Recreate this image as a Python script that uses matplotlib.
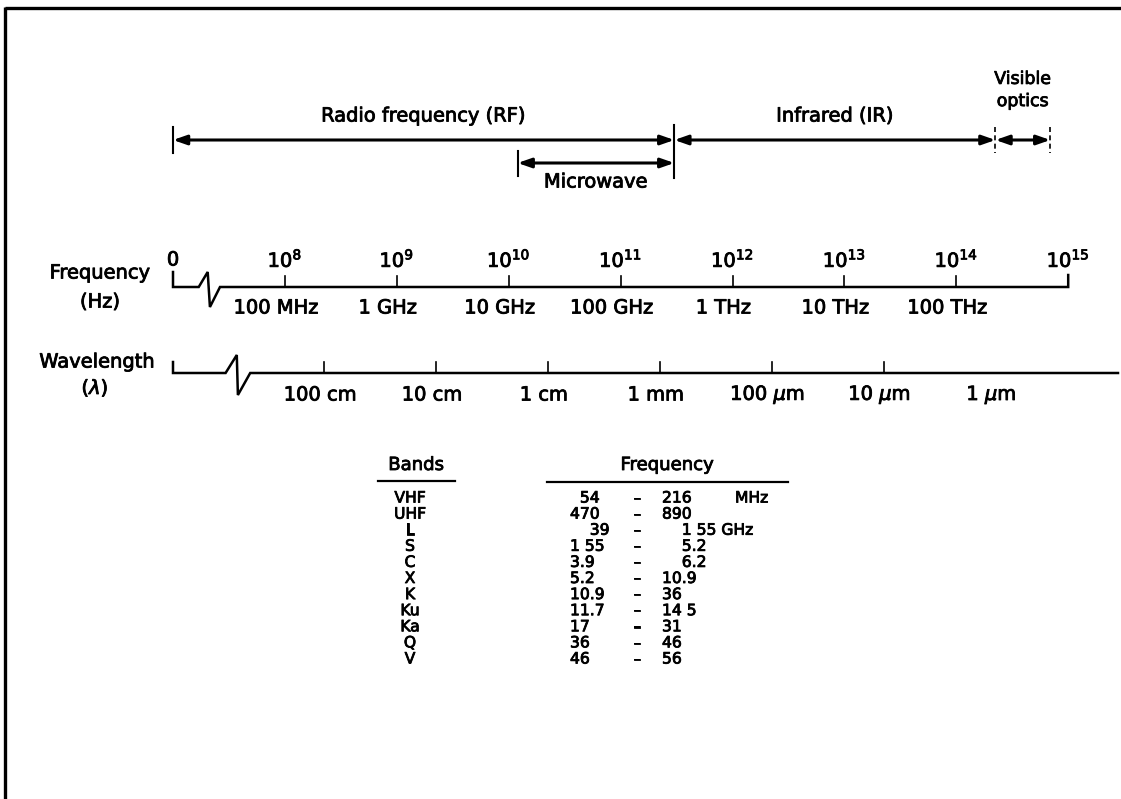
import matplotlib
matplotlib.use("Agg")
import matplotlib.pyplot as plt
import matplotlib.patheffects as pe

plt.rcParams['font.family'] = ['DejaVu Sans']
plt.rcParams['mathtext.fontset'] = 'dejavusans'

# ---------------- data ----------------
freq_exponents = [8, 9, 10, 11, 12, 13, 14, 15]
freq_names = ["100 MHz", "1 GHz", "10 GHz", "100 GHz", "1 THz", "10 THz", "100 THz"]
wave_names = ["100 cm", "10 cm", "1 cm", "1 mm", "100 $\\mu$m", "10 $\\mu$m", "1 $\\mu$m"]
wave_tick_count = 6

# spectral regions (in decades of Hz, on the drawing's scale)
region_names = ["Radio frequency (RF)", "Infrared (IR)", "Visible\noptics"]
region_start = [7.0, 11.48, 14.35]
region_end = [11.48, 14.35, 14.84]
micro_name = "Microwave"
micro_start, micro_end = 10.08, 11.48

bands = ["VHF", "UHF", "L", "S", "C", "X", "K", "Ku", "Ka", "Q", "V"]
band_low = ["\u200754", "470", "\u2007\u200739", "1 55", "3.9", "5.2", "10.9", "11.7", "17", "36", "46"]
band_high = ["216", "890", "\u2007\u20071 55", "\u2007\u20075.2", "\u2007\u20076.2", "10.9", "36", "14 5", "31", "46", "56"]
band_unit = ["MHz", "", "GHz", "", "", "", "", "", "", "", ""]

# ---------------- layout ----------------
X0, DEC = 173, 111.9          # pixel x of decade 7 and pixels per decade


def xd(e):
    return X0 + (e - 7) * DEC


fig = plt.figure(figsize=(11.21, 7.99), dpi=100)
ax = fig.add_axes([0, 0, 1, 1])
ax.set_xlim(0, 1121)
ax.set_ylim(799, 0)
ax.axis('off')

thick = [pe.withStroke(linewidth=0.6, foreground='black')]
FS = 14


def txt(x, y, s, ha='center', va='center', fs=FS, **kw):
    ax.text(x, y, s, ha=ha, va=va, fontsize=fs, color='black',
            path_effects=thick, **kw)


# border (scanned frame)
ax.plot([5, 1121], [8, 8], color='black', lw=2.4, solid_capstyle='butt')
ax.plot([5, 5], [7, 799], color='black', lw=2.4, solid_capstyle='butt')

# ---------------- region arrows ----------------
y_top = 140
arrow_kw = dict(arrowstyle='<|-|>,head_length=0.8,head_width=0.28', color='black',
                lw=2.2, shrinkA=0, shrinkB=0)
for name, s, e in zip(region_names, region_start, region_end):
    ax.annotate('', xy=(xd(s), y_top), xytext=(xd(e), y_top), arrowprops=arrow_kw)
    if '\n' in name:
        txt((xd(s) + xd(e)) / 2, 90, name, fs=FS - 1.5, linespacing=1.3)
    else:
        txt((xd(s) + xd(e)) / 2, 116, name)

# boundary marks
ax.plot([xd(7), xd(7)], [127, 153], color='black', lw=1.5)
ax.plot([xd(11.48), xd(11.48)], [125, 178], color='black', lw=1.5)
ax.plot([xd(14.35), xd(14.35)], [127, 153], color='black', lw=1.2, dashes=(3, 2))
ax.plot([xd(14.84), xd(14.84)], [127, 153], color='black', lw=1.2, dashes=(3, 2))

# microwave
y_mw = 163
ax.annotate('', xy=(xd(micro_start), y_mw), xytext=(xd(micro_end), y_mw), arrowprops=arrow_kw)
ax.plot([xd(micro_start), xd(micro_start)], [151, 176], color='black', lw=1.5)
txt((xd(micro_start) + xd(micro_end)) / 2, 182, micro_name)

# ---------------- frequency axis ----------------
y_f = 287
fx = [xd(7), xd(7), xd(7.23), xd(7.31), xd(7.33), xd(7.42), xd(15), xd(15)]
fy = [272, y_f, y_f, 272, 307, y_f, y_f, 275]
ax.plot(fx, fy, color='black', lw=1.8, solid_joinstyle='miter')
txt(xd(7), 260, "0")
for i, e in enumerate(freq_exponents):
    x = xd(e)
    if e < 15:
        ax.plot([x, x], [276, y_f], color='black', lw=1.2)
    txt(x, 260, "10$^{%d}$" % e)
for i, name in enumerate(freq_names):
    txt(xd(freq_exponents[i]) - 9, 308, name)
txt(100, 273, "Frequency")
txt(100, 302, "(Hz)")

# ---------------- wavelength axis ----------------
y_w = 373
wx = [xd(7), xd(7), xd(7.47), xd(7.57), xd(7.58), xd(7.69), 1118]
wy = [362, y_w, y_w, 355, 395, y_w, y_w]
ax.plot(wx, wy, color='black', lw=1.8, solid_joinstyle='miter')
for i, name in enumerate(wave_names):
    x = xd(8.35 + i)
    if i < wave_tick_count:
        ax.plot([x, x], [362, y_w], color='black', lw=1.2)
    txt(x - 4, 395, name)
txt(97, 362, "Wavelength")
txt(95, 388, "($\\lambda$)")

# ---------------- bands table ----------------
FH = 13
FT = 11.2
txt(416, 465, "Bands", fs=FH)
ax.plot([378, 455], [481, 481], color='black', lw=1.6)
txt(667, 465, "Frequency", fs=FH)
ax.plot([547, 788], [482, 482], color='black', lw=1.6)
y0, dy = 498, 16.1
for i, b in enumerate(bands):
    y = y0 + i * dy
    txt(410, y, b, fs=FT)
    txt(570, y, band_low[i], ha='left', fs=FT)
    txt(637, y, "\u2013", fs=FT)
    hi = band_high[i]
    if band_unit[i] == "GHz":
        hi = hi + " " + band_unit[i]
    txt(662, y, hi, ha='left', fs=FT)
    if band_unit[i] == "MHz":
        txt(735, y, band_unit[i], ha='left', fs=FT)

fig.savefig("out.png", dpi=100)
